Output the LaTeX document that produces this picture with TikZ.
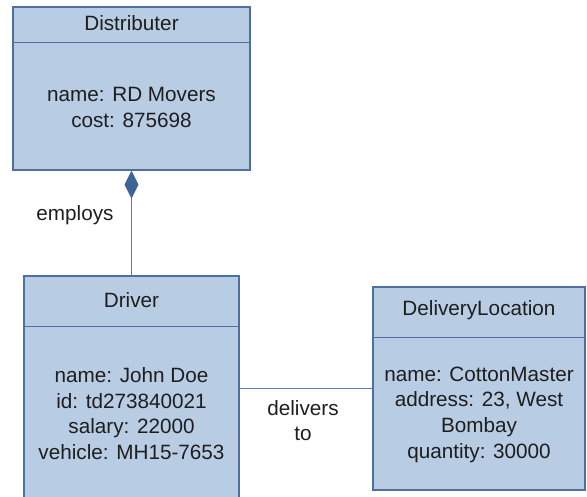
\documentclass[tikz,border=0pt]{standalone}
\usepackage{fontspec}
\setmainfont{Liberation Sans}
\usetikzlibrary{arrows.meta}
\definecolor{boxfill}{HTML}{B8CCE4}
\definecolor{boxline}{HTML}{4F6FA0}
\definecolor{linkline}{HTML}{5B7DB0}
\definecolor{diamondfill}{HTML}{3D6496}
\definecolor{ink}{HTML}{1E1E1E}
\tikzset{
  classbox/.style={draw=boxline, fill=boxfill, line width=1.3pt, inner sep=0pt},
  divider/.style={draw=boxline, line width=1.3pt},
  txt/.style={text=ink, align=center, inner sep=0pt,
    font=\fontsize{20.7}{25.7}\selectfont},
  link/.style={draw=linkline, line width=1.3pt},
}
\begin{document}
\begin{tikzpicture}[x=1pt,y=-1pt]
\useasboundingbox (0,0) rectangle (587,497);

% class boxes
\node[classbox, minimum width=237pt, minimum height=163pt] (dist) at (131.5,88.5) {};
\node[classbox, minimum width=215pt, minimum height=229pt] (driver) at (131.5,390.5) {};
\node[classbox, minimum width=212pt, minimum height=203pt] (loc) at (479,388.5) {};

% header dividers
\draw[divider] ([yshift=-36pt]dist.north west) -- ([yshift=-36pt]dist.north east);
\draw[divider] ([yshift=-51pt]driver.north west) -- ([yshift=-51pt]driver.north east);
\draw[divider] ([yshift=-51pt]loc.north west) -- ([yshift=-51pt]loc.north east);

% titles
\node[txt] (distT) at (131.5,23) {Distributer};
\node[txt] (driverT) at (131.5,300) {Driver};
\node[txt] (locT) at (479,310) {DeliveryLocation};

% attributes
\node[txt] (distA) at (131.5,107.5) {name: RD Movers\\cost: 875698};
\node[txt] (driverA) at (131.5,413.5) {name: John Doe\\id: td273840021\\salary: 22000\\vehicle: MH15-7653};
\node[txt] (locA) at (479,414.5) {name: CottonMaster\\address: 23, West\\Bombay\\quantity: 30000};

% composition: Distributer employs Driver
\draw[link, -{Diamond[length=28pt, width=14pt, fill=diamondfill, color=diamondfill]}] (driver.north) -- (dist.south);
\node[txt] (employs) at (75,215) {employs};

% association: Driver delivers to DeliveryLocation
\draw[link] (driver.east |- loc.west) -- (loc.west);
\node[txt] (delivers) at (303,420.5) {delivers\\to};
\end{tikzpicture}
\end{document}
